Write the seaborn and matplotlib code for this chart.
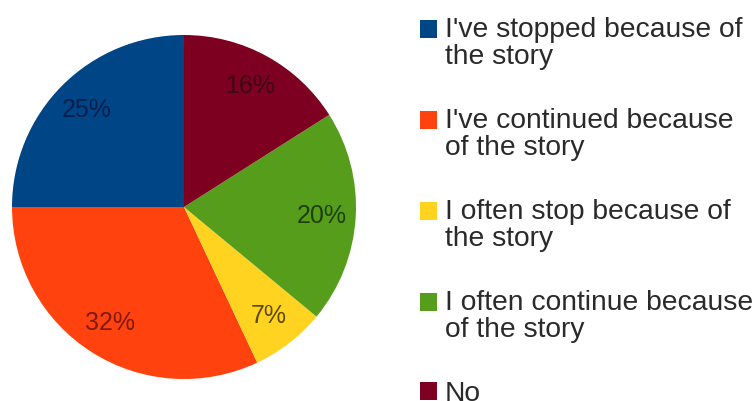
import matplotlib
matplotlib.use("Agg")
import matplotlib.pyplot as plt
import seaborn as sns
from matplotlib.patches import Rectangle
from matplotlib.legend_handler import HandlerPatch

categories = [
    "I've stopped because of\nthe story",
    "I've continued because\nof the story",
    "I often stop because of\nthe story",
    "I often continue because\nof the story",
    "No",
]
values = [25, 32, 7, 20, 16]
slice_colors = ["#004586", "#ff420e", "#ffd320", "#579d1c", "#7e0021"]
label_colors = ["#0b1f4d", "#7d1a12", "#5b4a05", "#1d3f0a", "#3d0612"]

sns.set_theme(style="white")
plt.rcParams["font.family"] = ["Liberation Sans", "DejaVu Sans"]

W, H = 756, 401
fig = plt.figure(figsize=(W / 100, H / 100), dpi=100)
fig.patch.set_facecolor("white")

cx, cy, r = 184, 207, 172
ax = fig.add_axes([(cx - r) / W, (H - cy - r) / H, 2 * r / W, 2 * r / H])
wedges, texts, autotexts = ax.pie(
    values,
    colors=slice_colors,
    startangle=90,
    counterclock=True,
    autopct="%d%%",
    pctdistance=0.8,
    radius=1.0,
    wedgeprops=dict(linewidth=0),
    textprops=dict(fontsize=18),
)
for t, c in zip(autotexts, label_colors):
    t.set_color(c)
ax.set_xlim(-1, 1)
ax.set_ylim(-1, 1)
ax.set_aspect("equal")
ax.axis("off")


class TopHandler(HandlerPatch):
    def __init__(self, shift, **kw):
        super().__init__(**kw)
        self.shift = shift

    def create_artists(self, legend, orig_handle, xdescent, ydescent,
                       width, height, fontsize, trans):
        p = Rectangle((-xdescent, -ydescent + self.shift), width, height)
        self.update_prop(p, orig_handle, legend)
        p.set_transform(trans)
        return [p]


fs = 20.3
handler_map = {}
for w, lab in zip(wedges, categories):
    nlines = lab.count("\n") + 1
    handler_map[w] = TopHandler(shift=(nlines - 1) * 10.5)

leg = fig.legend(
    wedges, categories,
    loc="upper left",
    bbox_to_anchor=(420 / W, 1 - 17 / H),
    frameon=False,
    fontsize=fs,
    handlelength=0.62,
    handleheight=0.62,
    handletextpad=0.25,
    labelspacing=1.35,
    borderpad=0,
    borderaxespad=0,
    handler_map=handler_map,
)
for t in leg.get_texts():
    t.set_linespacing(1.05)
    t.set_color("#2a2a2a")

fig.savefig("out.png", dpi=100, facecolor="white")
